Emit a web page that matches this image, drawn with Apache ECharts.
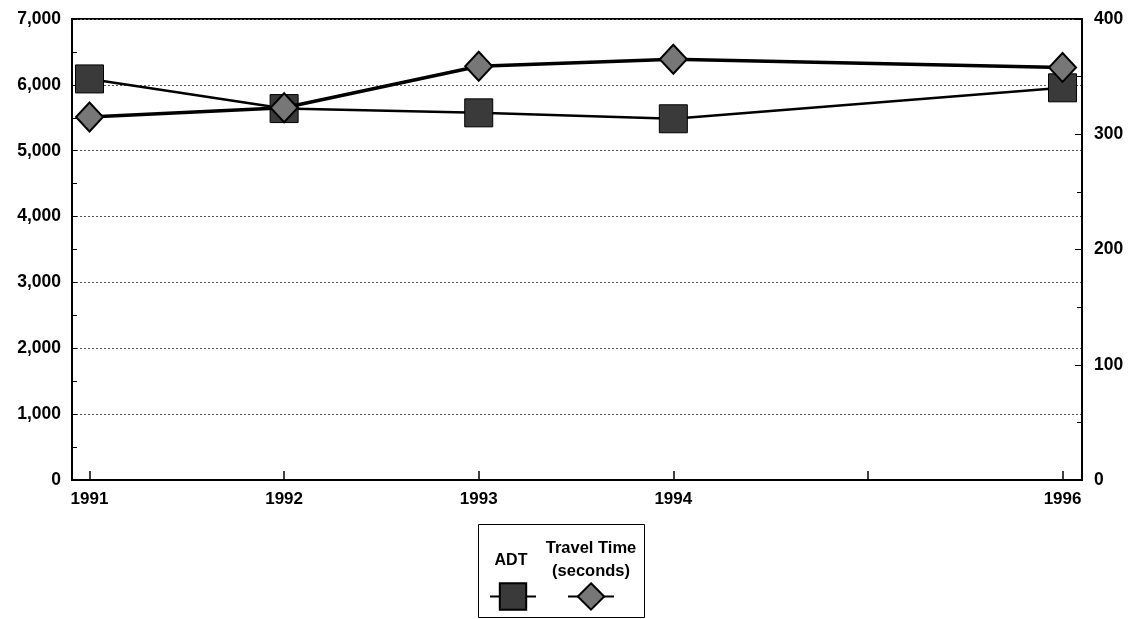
<!DOCTYPE html>
<html>
<head>
<meta charset="utf-8">
<script src="https://cdn.jsdelivr.net/npm/echarts@6/dist/echarts.min.js"></script>
<style>
html,body{margin:0;padding:0;background:#fff;}
#chart{width:1133px;height:619px;}
</style>
</head>
<body>
<div id="chart"></div>
<script>
const years = [1991, 1992, 1993, 1994, 1996];
const tickYears = [1991, 1992, 1993, 1994, 1995, 1996];
const labelYears = [1991, 1992, 1993, 1994, 1996];
const adt = [6090, 5640, 5575, 5485, 5955];
const travelTime = [315, 323, 359, 365, 358];

const FONT = '"Liberation Sans", Arial, sans-serif';
const chart = echarts.init(document.getElementById('chart'));

const option = {
  backgroundColor: '#fff',
  animation: false,
  grid: {
    left: 72, right: 51, top: 19, bottom: 139,
    show: true, borderColor: '#000', borderWidth: 2, backgroundColor: 'transparent'
  },
  xAxis: {
    type: 'value',
    min: 1990.91, max: 1996.1,
    axisLine: { lineStyle: { color: '#000', width: 2 } },
    axisTick: { inside: true, length: 9, customValues: tickYears, lineStyle: { color: '#000', width: 1.5 } },
    axisLabel: {
      customValues: labelYears, margin: 11,
      formatter: v => String(v),
      fontFamily: FONT, fontSize: 17, fontWeight: 'bold', color: '#000'
    },
    splitLine: { show: false }
  },
  yAxis: [
    {
      type: 'value', min: 0, max: 7000, interval: 1000, position: 'left',
      axisLine: { show: true, lineStyle: { color: '#000', width: 2 } },
      axisTick: { show: true, inside: true, length: 5, lineStyle: { color: '#000' } },
      minorTick: { show: true, splitNumber: 2, length: 5, lineStyle: { color: '#000' } },
      axisLabel: {
        margin: 11, fontFamily: FONT, fontSize: 17.5, fontWeight: 'bold', color: '#000',
        formatter: v => v.toLocaleString('en-US')
      },
      splitLine: { show: true, lineStyle: { color: '#555', type: [2, 2], width: 1 } }
    },
    {
      type: 'value', min: 0, max: 400, interval: 100, position: 'right',
      axisLine: { show: true, lineStyle: { color: '#000', width: 2 } },
      axisTick: { show: true, inside: true, length: 7, lineStyle: { color: '#000' } },
      minorTick: { show: true, splitNumber: 2, length: 5, lineStyle: { color: '#000' } },
      axisLabel: {
        margin: 12, fontFamily: FONT, fontSize: 17.5, fontWeight: 'bold', color: '#000'
      },
      splitLine: { show: false }
    }
  ],
  legend: {
    left: 484, top: 575,
    itemWidth: 46, itemHeight: 33, itemGap: 30,
    formatter: () => '',
    textStyle: { fontSize: 1 },
    data: ['ADT', 'Travel Time (seconds)']
  },
  graphic: [
    { type: 'rect', shape: { x: 478.5, y: 524.5, width: 166, height: 93 },
      style: { fill: 'none', stroke: '#000', lineWidth: 1 } },
    { type: 'text', x: 511, y: 561,
      style: { text: 'ADT', font: 'bold 16px ' + FONT, fill: '#000', align: 'center', verticalAlign: 'middle' } },
    { type: 'text', x: 591, y: 537,
      style: { text: 'Travel Time\n(seconds)', font: 'bold 16.5px ' + FONT, fill: '#000', align: 'center', verticalAlign: 'top', lineHeight: 23 } }
  ],
  series: [
    {
      name: 'ADT', type: 'line', yAxisIndex: 0,
      data: years.map((y, i) => [y, adt[i]]),
      symbol: 'rect', symbolSize: 28,
      lineStyle: { color: '#000', width: 2.5 },
      itemStyle: { color: '#3a3a3a', borderColor: '#000', borderWidth: 1 },
      z: 2
    },
    {
      name: 'Travel Time (seconds)', type: 'line', yAxisIndex: 1,
      data: years.map((y, i) => [y, travelTime[i]]),
      symbol: 'diamond', symbolSize: [27, 29],
      lineStyle: { color: '#000', width: 3.5 },
      itemStyle: { color: '#777', borderColor: '#000', borderWidth: 2 },
      z: 3
    }
  ]
};
chart.setOption(option);
</script>
</body>
</html>
